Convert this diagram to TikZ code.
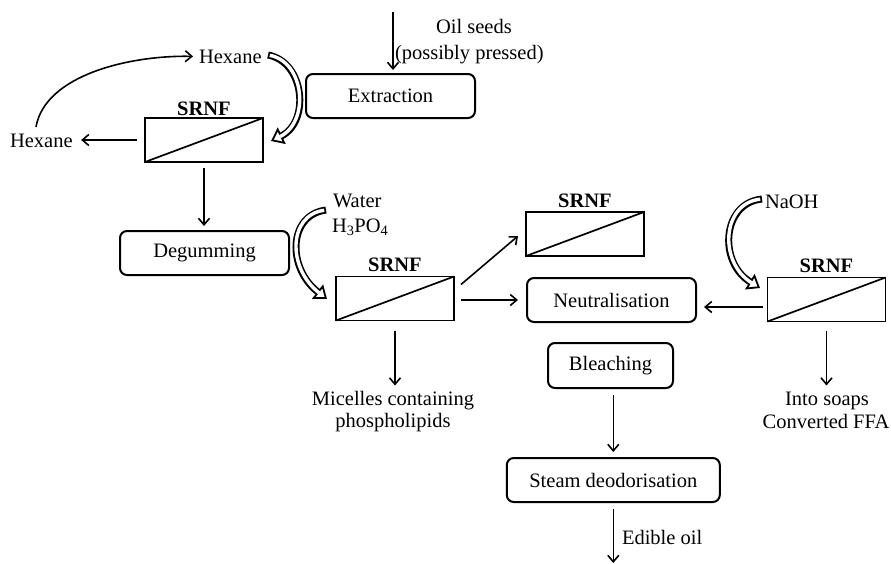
\documentclass[tikz,border=0pt]{standalone}
\usepackage{fontspec}
\setmainfont{Liberation Serif}
\usetikzlibrary{arrows.meta,calc}
\begin{document}
\begin{tikzpicture}[x=1pt,y=-1pt,
  every node/.style={font=\fontsize{20.5}{23}\selectfont, inner sep=0pt, outer sep=0pt},
  proc/.style={draw, rounded corners=7pt, line width=2pt, minimum width=169pt, minimum height=44pt},
  memb/.style={draw, line width=1.9pt, minimum width=118pt, minimum height=44pt},
  lbl/.style={font=\fontsize{20.5}{23}\selectfont\bfseries, anchor=base},
  arr/.style={line width=1.6pt, -{Straight Barb[length=6.5pt,width=11pt]}},
  txt/.style={anchor=base west},
  ctxt/.style={anchor=base},
  hollowout/.style={line width=7pt, -{Triangle[open, fill=white, line width=1.8pt, length=12pt, width=18pt]}},
  hollowin/.style={line width=3.4pt, white, shorten >=10pt, shorten <=1.8pt},
]
\useasboundingbox (0,0) rectangle (891,563);

% process boxes
\node[proc] (extr) at (390.5,96) {Extraction};
\node[proc] (degum) at (204.5,253) {Degumming};
\node[proc] (neut) at (611.5,300) {Neutralisation};
\node[proc, minimum width=125pt, minimum height=45pt] (bleach) at (610.5,365.5) {Bleaching};
\node[proc, minimum width=213pt] (steam) at (613.3,480) {Steam deodorisation};

% membranes
\node[memb] (m1) at (204,140) {};
\node[memb] (m2) at (395,298.5) {};
\node[memb] (m3) at (585,234) {};
\node[memb] (m4) at (826.5,299.5) {};
\foreach \m in {m1,m2,m3,m4} \draw[line width=1.7pt] (\m.south west) -- (\m.north east);

\node[lbl] (s1) at (204,115) {SRNF};
\node[lbl] (s2) at (395,271.5) {SRNF};
\node[lbl] (s3) at (585,207) {SRNF};
\node[lbl] (s4) at (826.5,272.5) {SRNF};

% texts
\node[txt] (hexT) at (199,63) {Hexane};
\node[txt] (hexL) at (10,147) {Hexane};
\node[txt] (oil1) at (436,33) {Oil seeds};
\node[txt] (oil2) at (395,59) {(possibly pressed)};
\node[txt] (water) at (333,207) {Water};
\node[txt] (acid) at (332,232) {H\textsubscript{3}PO\textsubscript{4}};
\node[txt] (naoh) at (765,208) {NaOH};
\node[txt] (edible) at (622,544) {Edible oil};
\node[ctxt] (mic1) at (393,405) {Micelles containing};
\node[ctxt] (mic2) at (393,427) {phospholipids};
\node[ctxt] (soap1) at (827,405) {Into soaps};
\node[ctxt] (soap2) at (826,428) {Converted FFA};

% arrows
\coordinate (oiltop) at (393,12);
\draw[arr] (oiltop) -- ($(oiltop |- extr.north)+(0,-4)$);
\draw[arr] ($(m1.west)+(-8,0)$) -- ($(m1.west -| hexL.east)+(8.5,0)$);
\coordinate (hexstart) at (36,127);
\draw[arr] (hexstart) .. controls (45,75) and (130,55) .. ($(hexT.west)+(-6,0)$);
\draw[arr] ($(m1.south)+(0,6)$) -- ($(m1.south |- degum.north)+(0,-5)$);
\draw[arr] ($(m2.east)+(7,-14)$) -- ($(m3.south west)+(-8,-20)$);
\draw[arr] ($(m2.east)+(7,1.5)$) -- ($(neut.west)+(-9,0)$);
\draw[arr] ($(m2.south)+(0,10)$) -- ($(m2.south)+(0,65)$);
\draw[arr] ($(m4.west)+(-5,7.5)$) -- ($(neut.east)+(8,7)$);
\draw[arr] ($(m4.south)+(0,9)$) -- ($(m4.south)+(0,64)$);
\draw[arr] ($(bleach.south)+(2.8,7)$) -- ($(steam.north)+(0,-6)$);
\draw[arr] ($(steam.south)+(0,7)$) -- ($(steam.south)+(0,61)$);

% hollow curved arrows
\coordinate (h1s) at (268,55);
\coordinate (h1e) at (271,141);
\draw[hollowout] (h1s) .. controls (305,62) and (310,122) .. (h1e);
\draw[hollowin] (h1s) .. controls (305,62) and (310,122) .. (h1e);
\coordinate (h2s) at (326,210);
\coordinate (h2e) at (327,299);
\draw[hollowout] (h2s) .. controls (288,215) and (287,268) .. (h2e);
\draw[hollowin] (h2s) .. controls (288,215) and (287,268) .. (h2e);
\coordinate (h3s) at (762,199);
\coordinate (h3e) at (760,288);
\draw[hollowout] (h3s) .. controls (722,203) and (718,262) .. (h3e);
\draw[hollowin] (h3s) .. controls (722,203) and (718,262) .. (h3e);
\end{tikzpicture}
\end{document}
